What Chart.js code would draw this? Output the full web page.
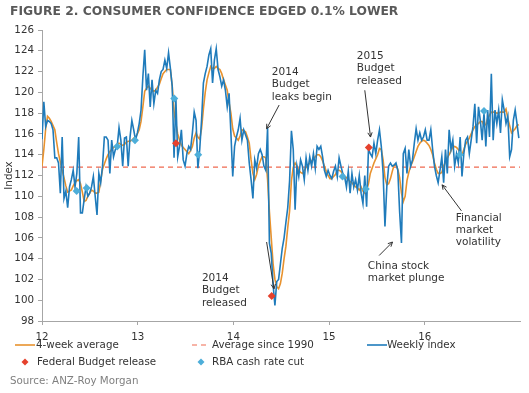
<!DOCTYPE html>
<html>
<head>
<meta charset="utf-8">
<style>
  html, body { margin: 0; padding: 0; background: #fff; }
  #wrap { width: 529px; height: 393px; }
</style>
<script src="https://cdn.jsdelivr.net/npm/chart.js@4.4.1/dist/chart.umd.min.js"></script>
</head>
<body>
<div id="wrap"><canvas id="chart" width="529" height="393"></canvas></div>
<script>
// weekly index, Jan 2012 onwards (one value per week)
const weeklyIndex = [
  115.5, 119.1, 116.7, 117.3, 117.2, 117.0, 116.4, 113.7, 113.7, 113.2,
  110.3, 115.7, 109.8, 110.5, 108.9, 110.9, 111.6, 112.5, 110.9, 112.2,
  115.7, 108.4, 108.4, 109.7, 110.9, 110.0, 110.3, 110.9, 111.9, 110.0,
  108.2, 112.2, 111.3, 112.9, 115.7, 115.7, 115.4, 112.2, 115.4, 113.8,
  114.5, 114.8, 116.6, 115.4, 112.9, 115.6, 115.7, 112.9, 115.7, 117.3,
  116.4, 115.4, 116.1, 117.0, 118.3, 121.5, 124.1, 120.2, 121.8, 118.6,
  121.2, 118.9, 120.2, 119.9, 121.2, 122.0, 122.2, 123.1, 122.3, 123.8,
  122.3, 120.6, 113.7, 119.4, 113.8, 114.8, 116.4, 113.5, 112.9, 114.1,
  114.8, 114.5, 116.1, 118.1, 117.3, 112.7, 114.5, 117.3, 120.9, 121.8,
  122.5, 123.6, 124.2, 120.9, 123.1, 124.2, 122.2, 121.5, 120.6, 121.2,
  120.2, 118.6, 119.9, 116.1, 111.9, 114.8, 115.7, 116.4, 117.5, 115.4,
  116.4, 115.9, 115.4, 113.2, 111.6, 109.8, 113.5, 112.7, 114.1, 114.5,
  114.0, 112.9, 112.5, 116.6, 105.5, 104.5, 101.5, 99.5, 101.8, 102.0,
  103.5, 105.0, 106.0, 107.5, 108.9, 111.5, 116.3, 114.5, 108.7, 112.9,
  111.9, 113.5, 112.9, 111.6, 113.7, 112.5, 113.8, 112.9, 114.1, 112.7,
  114.8, 114.5, 114.8, 113.8, 112.5, 111.9, 112.5, 112.0, 111.7, 112.4,
  112.9, 111.9, 113.7, 112.9, 112.2, 111.9, 110.9, 112.4, 110.3, 112.2,
  110.9, 111.6, 110.6, 112.0, 110.3, 109.3, 112.0, 109.0, 114.5, 114.1,
  113.8, 115.1, 114.1, 115.4, 116.4, 114.8, 112.2, 107.1, 110.9, 112.9,
  113.2, 112.9, 113.0, 113.2, 112.5, 108.5, 105.5, 114.1, 114.6, 112.2,
  114.5, 112.9, 113.5, 115.1, 116.5, 115.4, 116.1, 115.4, 115.7, 116.4,
  115.4, 115.4, 116.4, 114.5, 112.9, 112.0, 111.3, 112.5, 113.8, 111.3,
  114.5, 112.2, 116.4, 114.5, 115.4, 112.9, 114.1, 113.2, 115.7, 111.9,
  114.1, 115.4, 115.7, 114.1, 115.4, 116.7, 118.9, 115.1, 118.6, 117.3,
  115.4, 118.0, 114.8, 118.3, 115.7, 121.8, 115.4, 118.3, 117.0, 118.3,
  116.1, 119.3, 118.3, 117.0, 117.7, 113.8, 114.5, 117.3, 118.3, 117.0,
  115.6
];

// 4-week average, same weeks
const fourWeekAvg = [
  112.9, 114.5, 116.5, 117.7, 117.5, 117.2, 116.8, 116.4, 115.2, 114.1,
  113.3, 112.5, 111.8, 111.0, 110.4, 110.5, 110.6, 111.0, 111.3, 111.5,
  111.6, 111.2, 110.4, 109.5, 109.6, 110.0, 110.3, 110.6, 110.5, 110.3,
  110.3, 110.4, 111.5, 112.6, 113.1, 113.6, 114.0, 114.3, 114.5, 114.7,
  114.8, 115.0, 115.1, 115.0, 114.9, 115.0, 115.2, 115.3, 115.3, 115.4,
  115.6, 115.7, 116.0, 116.4, 117.2, 118.6, 120.1, 120.4, 120.6, 120.4,
  120.2, 120.1, 120.2, 120.5, 120.8, 121.3, 121.8, 122.0, 122.2, 122.2,
  122.2, 120.6, 118.2, 117.0, 116.0, 115.4, 114.9, 114.7, 114.5, 114.3,
  114.1, 114.4, 114.8, 115.6, 116.1, 115.7, 115.5, 116.5, 118.4, 120.0,
  121.2, 121.9, 122.5, 122.3, 122.3, 122.5, 122.3, 122.2, 121.8, 121.2,
  120.7, 120.2, 119.0, 118.0, 116.5, 115.8, 115.6, 115.4, 115.8, 116.4,
  116.3, 116.2, 115.7, 115.1, 113.5, 112.2, 111.6, 112.1, 112.9, 113.4,
  113.8, 113.8, 113.7, 111.6, 108.5, 106.0, 103.5, 102.0, 101.3, 101.1,
  101.6, 102.6, 104.0, 105.2, 107.0, 108.6, 111.5, 112.8, 113.2, 112.9,
  112.5, 112.3, 112.2, 112.5, 112.8, 113.0, 113.2, 113.4, 113.6, 113.8,
  114.0, 114.0, 113.8, 113.4, 112.9, 112.4, 112.0, 111.7, 111.7, 111.9,
  112.1, 112.5, 112.5, 112.4, 112.1, 111.9, 111.8, 111.6, 111.4, 111.3,
  111.1, 110.9, 110.8, 110.6, 110.9, 110.5, 110.3, 110.6, 111.2, 112.2,
  112.7, 113.2, 113.6, 114.0, 114.6, 114.5, 113.5, 111.8, 111.1, 111.2,
  111.7, 112.4, 113.0, 113.0, 112.6, 111.8, 110.3, 109.5, 110.0, 111.5,
  112.3, 112.9, 113.3, 113.8, 114.3, 114.8, 115.1, 115.3, 115.4, 115.3,
  115.1, 114.9, 114.5, 114.0, 113.2, 112.6, 112.2, 112.2, 112.3, 112.9,
  113.3, 113.7, 114.0, 114.4, 114.7, 114.8, 114.7, 114.5, 114.2, 114.0,
  114.5, 115.0, 115.3, 115.6, 116.0, 116.4, 116.7, 116.9, 117.0, 117.2,
  117.2, 116.8, 116.9, 117.5, 117.8, 118.1, 118.1, 118.1, 118.0, 118.0,
  118.1, 118.1, 118.1, 118.4, 117.5, 116.8, 116.1, 116.3, 116.5, 116.8,
  116.9
];

const averageSince1990 = 112.8;

// event markers (x in years since 2000)
const budgetX = [13.40, 14.40, 15.415];
const budgetY = [115.1, 100.4, 114.7];
const rbaX = [12.362, 12.467, 12.786, 12.971, 13.382, 13.632, 15.14, 15.384, 16.366, 16.619];
const rbaY = [110.5, 110.8, 114.8, 115.4, 119.4, 114.0, 111.9, 110.7, 114.0, 118.2];

const yearTicks = [12, 13, 14, 15, 16];
const firstYear = 12;

const FONT = '"DejaVu Sans", Verdana, sans-serif';
const BLUE = '#1f7bbb';
const ORANGE = '#e8922e';
const RED = '#e5412d';
const LIGHTBLUE = '#4daed9';

function weekX(i) {
  return firstYear + i * 7 / 365.25;
}

const weeklyPts = weeklyIndex.map((v, i) => ({ x: weekX(i), y: v }));
const avgPts = fourWeekAvg.map((v, i) => ({ x: weekX(i), y: v }));
const xMax = 16.995;

// annotation texts, placed in data units
const notes = [
  { x: 14.402, y: 121.96, lines: ['2014', 'Budget', 'leaks begin'], arrow: [14.478, 118.78, 14.347, 116.5] },
  { x: 13.671, y: 102.14, lines: ['2014', 'Budget', 'released'], arrow: [14.347, 105.6, 14.424, 101.1] },
  { x: 15.290, y: 123.5, lines: ['2015', 'Budget', 'released'], arrow: [15.373, 120.2, 15.433, 115.7] },
  { x: 15.405, y: 103.29, lines: ['China stock', 'market plunge'], arrow: [15.523, 104.3, 15.663, 105.6] },
  { x: 16.324, y: 107.92, lines: ['Financial', 'market', 'volatility'], arrow: [16.383, 108.6, 16.181, 111.1] }
];

function drawArrow(ctx, x1, y1, x2, y2) {
  const a = Math.atan2(y2 - y1, x2 - x1);
  ctx.beginPath();
  ctx.moveTo(x1, y1);
  ctx.lineTo(x2, y2);
  ctx.stroke();
  ctx.beginPath();
  ctx.moveTo(x2, y2);
  ctx.lineTo(x2 - 5 * Math.cos(a - 0.45), y2 - 5 * Math.sin(a - 0.45));
  ctx.moveTo(x2, y2);
  ctx.lineTo(x2 - 5 * Math.cos(a + 0.45), y2 - 5 * Math.sin(a + 0.45));
  ctx.stroke();
}

const extras = {
  id: 'extras',
  afterDraw(chart) {
    const ctx = chart.ctx;
    const xs = chart.scales.x, ys = chart.scales.y;
    ctx.save();

    // title
    ctx.fillStyle = '#595959';
    ctx.font = 'bold 12.3px ' + FONT;
    ctx.textBaseline = 'middle';
    ctx.textAlign = 'left';
    ctx.fillText('FIGURE 2. CONSUMER CONFIDENCE EDGED 0.1% LOWER', 10, 12);

    // notes
    ctx.font = '10.5px ' + FONT;
    ctx.fillStyle = '#333';
    ctx.strokeStyle = '#333';
    ctx.lineWidth = 1;
    notes.forEach(n => {
      const px = xs.getPixelForValue(n.x), py = ys.getPixelForValue(n.y);
      n.lines.forEach((t, k) => ctx.fillText(t, px, py + k * 12.4));
      const a = n.arrow;
      drawArrow(ctx, xs.getPixelForValue(a[0]), ys.getPixelForValue(a[1]),
        xs.getPixelForValue(a[2]), ys.getPixelForValue(a[3]));
    });

    // legend
    const r1 = 345, r2 = 362;
    ctx.lineWidth = 1.6;
    ctx.strokeStyle = ORANGE;
    ctx.beginPath(); ctx.moveTo(15, r1); ctx.lineTo(35, r1); ctx.stroke();
    ctx.strokeStyle = '#f06a50';
    ctx.lineWidth = 1.2;
    ctx.setLineDash([5, 4]);
    ctx.beginPath(); ctx.moveTo(192, r1); ctx.lineTo(208, r1); ctx.stroke();
    ctx.setLineDash([]);
    ctx.lineWidth = 1.6;
    ctx.strokeStyle = BLUE;
    ctx.beginPath(); ctx.moveTo(367, r1); ctx.lineTo(387, r1); ctx.stroke();

    function diamond(x, y, c) {
      ctx.fillStyle = c;
      ctx.beginPath();
      ctx.moveTo(x, y - 3.5); ctx.lineTo(x + 3.5, y); ctx.lineTo(x, y + 3.5); ctx.lineTo(x - 3.5, y);
      ctx.closePath(); ctx.fill();
    }
    diamond(25, r2, RED);
    diamond(201, r2, LIGHTBLUE);

    ctx.fillStyle = '#333';
    ctx.font = '10.3px ' + FONT;
    ctx.fillText('4-week average', 36, r1);
    ctx.fillText('Average since 1990', 212, r1);
    ctx.fillText('Weekly index', 387, r1);
    ctx.fillText('Federal Budget release', 37, r2);
    ctx.fillText('RBA cash rate cut', 212, r2);

    ctx.fillStyle = '#7f7f7f';
    ctx.fillText('Source: ANZ-Roy Morgan', 10, 381);
    ctx.restore();
  }
};

new Chart(document.getElementById('chart'), {
  type: 'line',
  data: {
    datasets: [
      {
        label: 'RBA cash rate cut',
        data: rbaX.map((x, i) => ({ x: x, y: rbaY[i] })),
        showLine: false,
        pointStyle: 'rectRot',
        pointRadius: 4,
        backgroundColor: LIGHTBLUE,
        borderWidth: 0,
        order: 0
      },
      {
        label: 'Federal Budget release',
        data: budgetX.map((x, i) => ({ x: x, y: budgetY[i] })),
        showLine: false,
        pointStyle: 'rectRot',
        pointRadius: 4,
        backgroundColor: RED,
        borderWidth: 0,
        order: 1
      },
      {
        label: 'Weekly index',
        data: weeklyPts,
        borderColor: BLUE,
        borderWidth: 1.6,
        pointRadius: 0,
        tension: 0,
        order: 2
      },
      {
        label: '4-week average',
        data: avgPts,
        borderColor: ORANGE,
        borderWidth: 1.6,
        pointRadius: 0,
        tension: 0,
        order: 3
      },
      {
        label: 'Average since 1990',
        data: [{ x: firstYear, y: averageSince1990 }, { x: xMax, y: averageSince1990 }],
        borderColor: '#f06a50',
        borderWidth: 1.2,
        borderDash: [5, 4],
        pointRadius: 0,
        order: 4
      }
    ]
  },
  options: {
    responsive: false,
    animation: false,
    devicePixelRatio: 1,
    layout: { padding: { top: 30, right: 9, bottom: 50, left: 0 } },
    plugins: {
      legend: { display: false },
      tooltip: { enabled: false }
    },
    scales: {
      x: {
        type: 'linear',
        min: firstYear,
        max: xMax,
        afterBuildTicks: s => { s.ticks = yearTicks.map(v => ({ value: v })); },
        afterFit: s => { s.height = 22; },
        ticks: { color: '#333', font: { family: FONT, size: 10.3 }, padding: 6, autoSkip: false, maxRotation: 0 },
        grid: { drawOnChartArea: false, drawTicks: true, tickLength: 4, color: '#a6a6a6' },
        border: { color: '#a6a6a6' }
      },
      y: {
        min: 98,
        max: 126,
        afterFit: s => { s.width = 42; },
        ticks: { stepSize: 2, color: '#333', font: { family: FONT, size: 10.3 }, padding: 4 },
        grid: { drawOnChartArea: false, drawTicks: true, tickLength: 4, color: '#a6a6a6' },
        border: { color: '#a6a6a6' },
        title: { display: true, text: 'Index', color: '#333', font: { family: FONT, size: 10.3 }, padding: 3 }
      }
    }
  },
  plugins: [extras]
});
</script>
</body>
</html>
